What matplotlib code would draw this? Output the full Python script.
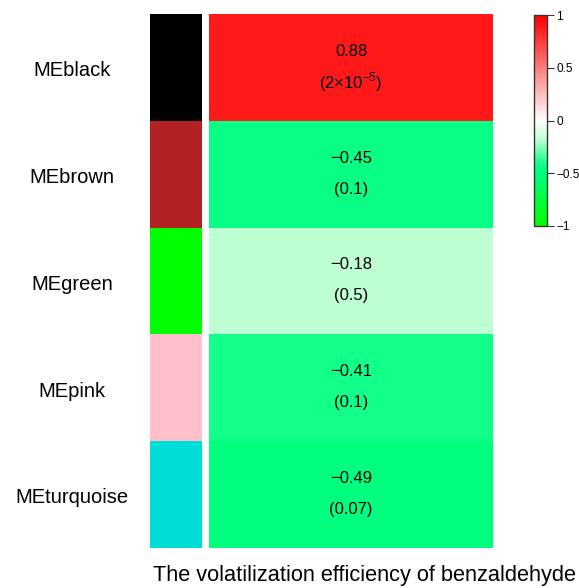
import matplotlib
matplotlib.use('Agg')
import matplotlib.pyplot as plt
import numpy as np
from matplotlib.colors import LinearSegmentedColormap, Normalize, ListedColormap

plt.rcParams['font.family'] = ['Liberation Sans', 'DejaVu Sans']
plt.rcParams['mathtext.fontset'] = 'custom'
plt.rcParams['mathtext.rm'] = 'Liberation Sans'
plt.rcParams['axes.unicode_minus'] = True

modules = ['MEblack', 'MEbrown', 'MEgreen', 'MEpink', 'MEturquoise']
module_colors = ['black', '#B22222', '#00FF00', '#FFC0CB', '#00DDD6']
corr = [0.88, -0.45, -0.18, -0.41, -0.49]
pvals = ['(2×10$^{−5}$)', '(0.1)', '(0.5)', '(0.1)', '(0.07)']
trait = 'The volatilization efficiency of benzaldehyde'

# green-white-red palette as it shows in the picture
nodes = [(0.0, '#00FF00'), (0.255, '#00FF7F'), (0.295, '#12FF8A'),
         (0.41, '#C0FFD4'), (0.5, '#FFFFFF'), (0.94, '#FF1A1A'), (1.0, '#FF0000')]
cmap = LinearSegmentedColormap.from_list('gwr', nodes)
norm = Normalize(-1, 1)

fig = plt.figure(figsize=(5.79, 5.88), dpi=100)
n = len(modules)

# module colour strip
axc = fig.add_axes([150/579, 1-548/588, 52/579, 534/588])
axc.pcolormesh(np.arange(n).reshape(-1, 1), cmap=ListedColormap(module_colors),
               vmin=-0.5, vmax=n-0.5)
axc.set_ylim(n, 0)
axc.set_xticks([])
axc.set_yticks([])
for i, m in enumerate(modules):
    axc.text(-1.5, i + 0.53, m, transform=axc.get_yaxis_transform(),
             ha='center', va='center', fontsize=14.5)
for s in axc.spines.values():
    s.set_visible(False)

# heatmap
axh = fig.add_axes([209/579, 1-548/588, 284/579, 534/588])
axh.pcolormesh(np.array(corr).reshape(-1, 1), cmap=cmap, norm=norm)
axh.set_ylim(n, 0)
axh.set_yticks([])
axh.set_xticks([])
for s in axh.spines.values():
    s.set_visible(False)
for i, (r, p) in enumerate(zip(corr, pvals)):
    axh.text(0.5, i + 0.35, f'{r:.2f}'.replace('-', '−'), ha='center', va='center', fontsize=12)
    axh.text(0.5, i + 0.64, p, ha='center', va='center', fontsize=12)
axh.set_xlabel(trait, fontsize=15.7, labelpad=12)
axh.xaxis.set_label_coords(0.5475, -0.031, transform=axh.transAxes)
axh.xaxis.label.set_va('top')

# colour bar
axb = fig.add_axes([534/579, 1-226/588, 13/579, 211/588])
sm = plt.cm.ScalarMappable(norm=norm, cmap=cmap)
cb = fig.colorbar(sm, cax=axb)
cb.set_ticks([-1, -0.5, 0, 0.5, 1])
cb.set_ticklabels(['−1', '−0.5', '0', '0.5', '1'])
cb.ax.tick_params(labelsize=8.5, length=5, width=0.8, pad=1.5, color='#333333')
cb.outline.set_linewidth(1.0)
cb.outline.set_edgecolor('#333333')

fig.savefig('out.png', dpi=100)
